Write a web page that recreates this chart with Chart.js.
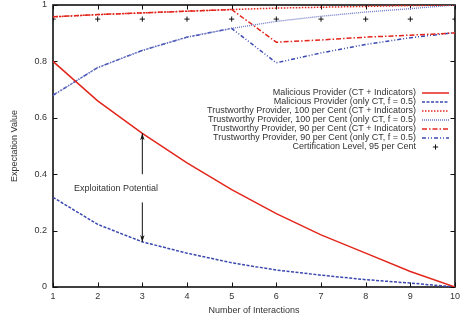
<!DOCTYPE html>
<html><head><meta charset="utf-8">
<script src="https://cdn.jsdelivr.net/npm/chart.js@4.4.0/dist/chart.umd.min.js"></script>
<style>html,body{margin:0;padding:0;background:#fff;}</style>
</head><body>
<canvas id="c" width="464" height="321" style="width:464px;height:321px;display:block"></canvas>
<script>
const interactions = [1, 2, 3, 4, 5, 6, 7, 8, 9, 10];
const maliciousCTInd = [0.8, 0.66, 0.545, 0.44, 0.345, 0.26, 0.185, 0.12, 0.055, 0];
const maliciousCT = [0.318, 0.222, 0.16, 0.12, 0.086, 0.06, 0.042, 0.026, 0.014, 0];
const trust100CTInd = [0.958, 0.966, 0.972, 0.978, 0.984, 0.989, 0.992, 0.995, 0.998, 1.0];
const trust100CT = [0.68, 0.778, 0.839, 0.886, 0.917, 0.942, 0.96, 0.975, 0.987, 1.0];
const trust90CTInd = [0.958, 0.966, 0.972, 0.978, 0.984, 0.868, 0.876, 0.886, 0.893, 0.901];
const trust90CT = [0.68, 0.778, 0.839, 0.886, 0.917, 0.795, 0.83, 0.86, 0.884, 0.902];
const certLevel = [0.95, 0.95, 0.95, 0.95, 0.95, 0.95, 0.95, 0.95, 0.95, 0.95];
const xTickLabels = ['1', '2', '3', '4', '5', '6', '7', '8', '9', '10'];
const yTickLabels = ['0', '0.2', '0.4', '0.6', '0.8', '1'];
const labels = [
  'Malicious Provider (CT + Indicators)',
  'Malicious Provider (only CT, f = 0.5)',
  'Trustworthy Provider, 100 per Cent (CT + Indicators)',
  'Trustworthy Provider, 100 per Cent (only CT, f = 0.5)',
  'Trustworthy Provider, 90 per Cent (CT + Indicators)',
  'Trustworthy Provider, 90 per Cent (only CT, f = 0.5)',
  'Certification Level, 95 per Cent'
];
const annotationText = 'Exploitation Potential';
const annotationPos = [1.47, 0.35];
const arrowUp = [[3, 0.40], [3, 0.545]];
const arrowDown = [[3, 0.30], [3, 0.16]];

const RED = '#e3261c';
const BLUE = '#3a48b0';
const FONT = '"Liberation Sans", Arial, Helvetica, sans-serif';
const TXT = '#333';

function pts(arr) { return interactions.map((x, i) => ({x: x, y: arr[i]})); }
function line(label, arr, color, dash, width) {
  return {label, data: pts(arr), borderColor: color, backgroundColor: color,
    borderDash: dash, borderWidth: width, pointRadius: 0, fill: false, tension: 0};
}

const datasets = [
  line(labels[0], maliciousCTInd, RED, [], 1.5),
  line(labels[1], maliciousCT, BLUE, [3, 1.5], 1.5),
  line(labels[2], trust100CTInd, RED, [1.5, 1.5], 1.5),
  line(labels[3], trust100CT, '#6a76c4', [1, 1], 1.3),
  line(labels[4], trust90CTInd, RED, [5, 2, 1.5, 2], 1.5),
  line(labels[5], trust90CT, BLUE, [4, 2, 1, 2, 1, 2], 1.5),
  {label: labels[6], data: pts(certLevel), showLine: false, pointStyle: 'cross',
   pointRadius: 2.6, pointBorderColor: '#111', pointBorderWidth: 1, borderColor: '#111', backgroundColor: '#111'}
];

const framePlugin = {
  id: 'frame',
  beforeDatasetsDraw(chart) {
    const {ctx, chartArea: a, scales: {x, y}} = chart;
    ctx.save();
    ctx.strokeStyle = '#111';
    ctx.lineWidth = 1;
    const tl = 4.5;
    ctx.beginPath();
    interactions.forEach(v => {
      const px = Math.round(x.getPixelForValue(v)) + 0.5;
      ctx.moveTo(px, a.bottom); ctx.lineTo(px, a.bottom - tl);
      ctx.moveTo(px, a.top); ctx.lineTo(px, a.top + tl);
    });
    y.ticks.forEach(t => {
      const py = Math.round(y.getPixelForValue(t.value)) + 0.5;
      ctx.moveTo(a.left, py); ctx.lineTo(a.left + tl, py);
      ctx.moveTo(a.right, py); ctx.lineTo(a.right - tl, py);
    });
    ctx.stroke();
    ctx.lineWidth = 1.6;
    ctx.strokeRect(a.left, a.top, a.right - a.left, a.bottom - a.top);
    ctx.restore();
  },
  afterDatasetsDraw(chart) {
    const {ctx, scales: {x, y}} = chart;
    ctx.save();
    // legend
    const textRight = 416, sx0 = 422, sx1 = 449, y0 = 93, dy = 9;
    ctx.font = '9px ' + FONT;
    ctx.textAlign = 'right';
    ctx.textBaseline = 'middle';
    chart.data.datasets.forEach((ds, i) => {
      const yy = y0 + i * dy;
      ctx.fillStyle = TXT;
      ctx.fillText(ds.label, textRight, yy);
      if (ds.showLine === false) {
        const cx = (sx0 + sx1) / 2;
        ctx.strokeStyle = '#111'; ctx.lineWidth = 1; ctx.setLineDash([]);
        ctx.beginPath();
        ctx.moveTo(cx - 2.6, yy); ctx.lineTo(cx + 2.6, yy);
        ctx.moveTo(cx, yy - 2.6); ctx.lineTo(cx, yy + 2.6);
        ctx.stroke();
      } else {
        ctx.strokeStyle = ds.borderColor; ctx.lineWidth = ds.borderWidth;
        ctx.setLineDash(ds.borderDash || []);
        ctx.beginPath(); ctx.moveTo(sx0, yy); ctx.lineTo(sx1, yy); ctx.stroke();
      }
    });
    ctx.setLineDash([]);
    // annotation
    ctx.fillStyle = TXT;
    ctx.textAlign = 'left';
    ctx.fillText(annotationText, x.getPixelForValue(annotationPos[0]), y.getPixelForValue(annotationPos[1]));
    [arrowUp, arrowDown].forEach(arr => {
      const x0 = x.getPixelForValue(arr[0][0]), ya = y.getPixelForValue(arr[0][1]);
      const yb = y.getPixelForValue(arr[1][1]);
      const dir = yb < ya ? -1 : 1;
      ctx.strokeStyle = '#111'; ctx.fillStyle = '#111'; ctx.lineWidth = 1;
      ctx.beginPath(); ctx.moveTo(x0, ya); ctx.lineTo(x0, yb); ctx.stroke();
      ctx.beginPath();
      ctx.moveTo(x0, yb);
      ctx.lineTo(x0 - 2.2, yb - dir * 7);
      ctx.lineTo(x0, yb - dir * 5);
      ctx.lineTo(x0 + 2.2, yb - dir * 7);
      ctx.closePath(); ctx.fill();
    });
    ctx.restore();
  }
};

new Chart(document.getElementById('c'), {
  type: 'line',
  data: {datasets},
  plugins: [framePlugin],
  options: {
    responsive: false,
    animation: false,
    devicePixelRatio: 1,
    layout: {padding: {top: 4, right: 9, left: 0, bottom: 0}},
    plugins: {legend: {display: false}, tooltip: {enabled: false}},
    scales: {
      x: {
        type: 'linear', min: 1, max: 10,
        afterFit(s) { s.height = 34; s.paddingLeft = 0; s.paddingRight = 0; },
        grid: {display: false, drawTicks: false}, border: {display: false},
        ticks: {stepSize: 1, padding: 4, color: TXT, font: {size: 9, family: FONT},
          callback: (v, i) => xTickLabels[i]},
        title: {display: true, text: 'Number of Interactions', color: TXT,
          font: {size: 9, family: FONT}, padding: {top: 0, bottom: 5}}
      },
      y: {
        type: 'linear', min: 0, max: 1,
        afterFit(s) { s.width = 53; s.paddingTop = 0; s.paddingBottom = 0; },
        grid: {display: false, drawTicks: false}, border: {display: false},
        ticks: {stepSize: 0.2, padding: 6, color: TXT, font: {size: 9, family: FONT},
          callback: (v, i) => yTickLabels[i]},
        title: {display: true, text: 'Expectation Value', color: TXT,
          font: {size: 9, family: FONT}, padding: {top: 9.5, bottom: 0}}
      }
    }
  }
});
</script>
</body></html>
